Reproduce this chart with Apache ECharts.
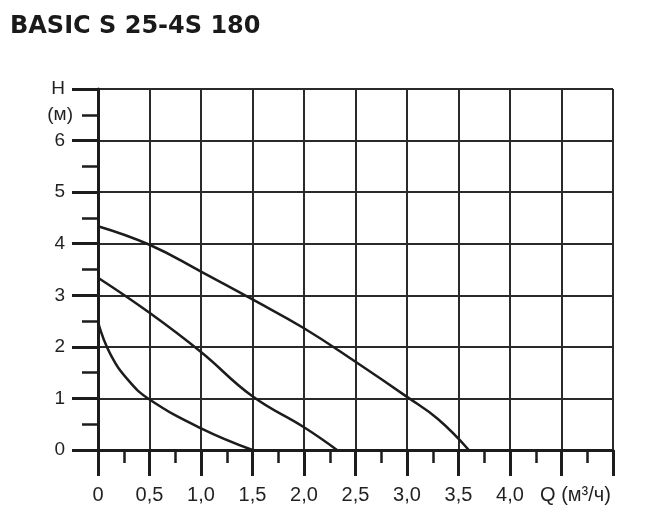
<!DOCTYPE html>
<html>
<head>
<meta charset="utf-8">
<script src="https://cdn.jsdelivr.net/npm/echarts@6/dist/echarts.min.js"></script>
<style>html,body{margin:0;padding:0;background:#fff}#c{width:647px;height:521px}</style>
</head>
<body>
<div id="c"></div>
<script>
const titleText = 'BASIC S 25-4S 180';
const xTickLabels = {0:'0',0.5:'0,5',1:'1,0',1.5:'1,5',2:'2,0',2.5:'2,5',3:'3,0',3.5:'3,5',4:'4,0',4.5:'Q (м³/ч)',5:''};
const yTickLabels = {0:'0',1:'1',2:'2',3:'3',4:'4',5:'5',6:'6',7:'H'};
const yUnitLabel = '(м)';
const curveHigh = [[0,4.34],[0.5,3.98],[1.0,3.46],[1.5,2.92],[2.0,2.36],[2.5,1.71],[3.0,1.03],[3.3,0.6],[3.6,0]];
const curveMid = [[0,3.34],[0.5,2.66],[1.0,1.9],[1.5,1.04],[2.0,0.44],[2.32,0]];
const curveLow = [[0,2.48],[0.12,1.86],[0.3,1.34],[0.5,0.98],[1.0,0.42],[1.5,0]];

const chart = echarts.init(document.getElementById('c'), null, {renderer:'canvas'});
const ink = '#1c1c1c';
const labelColor = '#231f20';
const lineSeries = (data) => ({type:'line', data, smooth:0.45, smoothConstraint:false, symbol:'none', lineStyle:{color:ink, width:2.5}, z:5});
chart.setOption({
  animation:false,
  backgroundColor:'#ffffff',
  title:{text:titleText, left:5, top:10, textStyle:{fontFamily:'DejaVu Sans', fontWeight:'bold', fontSize:24, color:'#1a1a1a'}},
  grid:{left:98, right:34, top:89, bottom:71, containLabel:false},
  xAxis:{type:'value', min:0, max:5, interval:0.5,
    axisLine:{show:true, onZero:false, lineStyle:{color:ink, width:3}},
    axisTick:{show:true, length:26, lineStyle:{color:ink, width:3}},
    minorTick:{show:true, splitNumber:2, length:13, lineStyle:{color:ink, width:2.5}},
    splitLine:{show:true, lineStyle:{color:'#2a2a2a', width:2}},
    axisLabel:{margin:35, fontFamily:'Liberation Sans', fontSize:20, color:labelColor,
      formatter:(v)=>{const t = xTickLabels[Math.round(v*2)/2]; if(Math.abs(v-4.5)<1e-6) return '{q|'+t+'}'; return t===undefined?'':t;},
      rich:{q:{fontFamily:'Liberation Sans', fontSize:20, color:labelColor, padding:[0,0,0,28]}}}
  },
  yAxis:[{type:'value', min:0, max:7, interval:1,
    axisLine:{show:true, onZero:false, lineStyle:{color:ink, width:3}},
    axisTick:{show:true, length:26, lineStyle:{color:ink, width:3}},
    minorTick:{show:true, splitNumber:2, length:16, lineStyle:{color:ink, width:2.5}},
    splitLine:{show:true, lineStyle:{color:'#2a2a2a', width:2}},
    axisLabel:{margin:33, fontFamily:'Liberation Sans', fontSize:19, color:labelColor,
      formatter:(v)=>{const t=yTickLabels[Math.round(v)]; return t===undefined?'':t;}}
  },{type:'value', min:0, max:7, interval:0.5, position:'left',
    axisLine:{show:false}, axisTick:{show:false}, splitLine:{show:false},
    axisLabel:{margin:25, fontFamily:'Liberation Sans', fontSize:19, color:labelColor,
      formatter:(v)=> Math.abs(v-6.5)<1e-6 ? yUnitLabel : ''}
  }],
  series:[lineSeries(curveHigh), lineSeries(curveMid), lineSeries(curveLow)]
});
</script>
</body>
</html>
